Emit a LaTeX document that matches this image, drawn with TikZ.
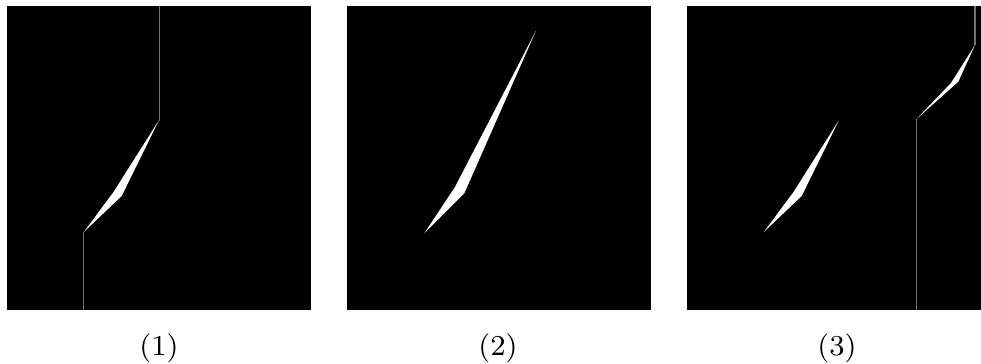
\documentclass[tikz,border=0pt]{standalone}
\usetikzlibrary{positioning}

\begin{document}
\begin{tikzpicture}[
    x=0.01cm, y=-0.01cm,
    panel/.style     = {fill=black},
    sliver/.style    = {fill=white},
    frontline/.style = {draw=black!55, line width=0.3pt},
    caption/.style   = {font=\fontsize{8.2}{10}\selectfont, anchor=base, inner sep=0pt}
  ]

% =========================================================
% Reusable sliver (pixel units, panel 1 position)
%   top tip:    (158.8,120.5)      bottom tip: (83.8,232)
%   kinks:      (113.5,192) left,  (121.7,196) right
% =========================================================
\newcommand{\drawsliverA}{%
  \fill[sliver]
    (158.8,120.5) -- (121.7,196) -- (83.8,232) -- (113.5,192) -- cycle;
}

\useasboundingbox (0,0) rectangle (981,363);

% =========================================================
% PANEL (1)
% =========================================================
\fill[panel] (7,6) rectangle (311,310);
\drawsliverA
\draw[frontline] (159.2,6) -- (159.2,120.5);
\draw[frontline] (83.6,232) -- (83.6,310);
\node[caption] (lblA) at (159,355) {(1)};

% =========================================================
% PANEL (2)
% =========================================================
\fill[panel] (347,6) rectangle (651,310);
\fill[sliver]
  (536,30.7) -- (464.3,193.3) -- (424.3,233.3) -- (455,187) -- cycle;
\node[caption] (lblB) at (498,355) {(2)};

% =========================================================
% PANEL (3) -- cut off at the right edge
% =========================================================
\fill[panel] (687,6) rectangle (981,310);
\begin{scope}[shift={(680,0)}]
  \drawsliverA
\end{scope}
\fill[sliver]
  (975,45) -- (958.3,81.7) -- (916.7,118.8) -- (951,83) -- cycle;
\draw[frontline] (975,6) -- (975,45);
\draw[frontline] (916.6,118.8) -- (916.6,310);
\node[caption] (lblC) at (837,355) {(3)};

\end{tikzpicture}
\end{document}
